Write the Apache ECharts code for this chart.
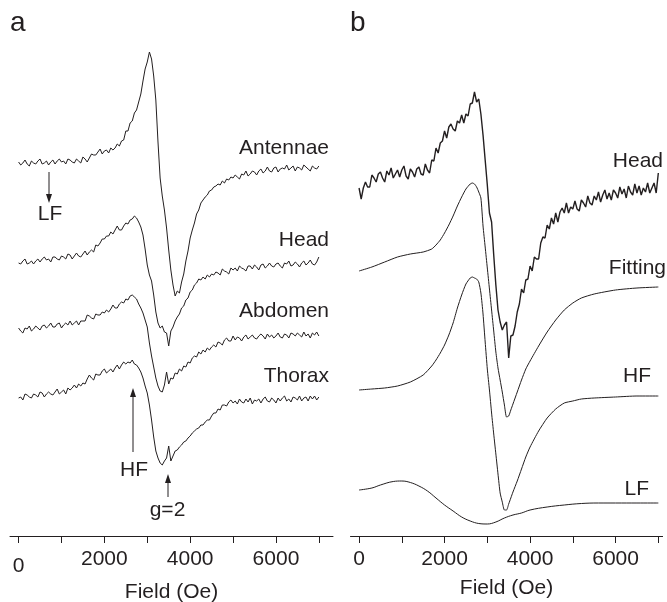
<!DOCTYPE html>
<html><head><meta charset="utf-8">
<script src="https://cdn.jsdelivr.net/npm/echarts@6/dist/echarts.min.js"></script>
<style>html,body{margin:0;padding:0;background:#fff}#c{width:667px;height:602px}</style>
</head><body><div id="c"></div>
<script>
// Field grid (Oe) shared by the measured (noisy) spectra
const fieldsRaw = [0,50,100,150,200,250,300,350,400,450,500,550,600,650,700,750,800,850,900,950,
1000,1050,1100,1150,1200,1250,1300,1350,1400,1450,1500,1550,1600,1650,1700,1750,1800,1850,1900,1950,
2000,2050,2100,2150,2200,2250,2300,2350,2400,2450,2500,2550,2600,2650,2700,2750,2800,2850,2900,2950,
3000,3050,3100,3150,3200,3250,3300,3350,3400,3450,3500,3550,3600,3650,3700,3750,3800,3850,3900,3950,
4000,4050,4100,4150,4200,4250,4300,4350,4400,4450,4500,4550,4600,4650,4700,4750,4800,4850,4900,4950,
5000,5050,5100,5150,5200,5250,5300,5350,5400,5450,5500,5550,5600,5650,5700,5750,5800,5850,5900,5950,
6000,6050,6100,6150,6200,6250,6300,6350,6400,6450,6500,6550,6600,6650,6700,6750,6800,6850,6900,6950,7000];

// Panel a: stacked EPR spectra (arbitrary units, offset for display)
const antennae = [374,371,373,376,372,370,375,373,372,375,377,372,373,375,371,374,376,372,375,377,
374,375,372,377,376,374,373,377,375,373,379,377,374,378,382,381,381,384,387,382,
385,386,383,388,386,388,392,390,395,396,405,405,413,415,423,426,434,442,455,467,
474,484,477,460,436,394,358,340,326,308,286,266,251,240,245,243,254,262,275,285,
298,306,313,322,326,333,336,339,341,345,346,349,350,352,351,355,353,357,356,359,
358,361,359,357,362,361,365,360,362,365,364,361,365,367,363,365,369,365,364,368,369,
364,367,368,367,371,366,368,370,365,369,368,366,371,369,367,365,370,368,367,370];
const headA = [273,272,275,277,272,273,275,272,275,277,274,277,279,276,277,274,279,279,277,276,
280,279,277,282,281,277,280,283,280,279,282,285,281,284,286,284,291,290,293,297,
297,300,300,304,302,306,310,306,306,310,313,312,316,317,320,318,314,309,301,287,
271,261,255,241,224,213,208,210,204,203,190,205,209,215,219,222,228,230,236,238,
244,246,251,253,257,256,259,257,261,259,262,261,264,263,261,267,265,264,262,268,
266,268,265,270,268,267,265,270,270,267,271,269,266,271,272,268,270,273,270,269,272,
273,270,268,273,272,275,270,271,274,272,269,273,275,271,273,276,272,271,274,279];
const abdomen = [208,205,203,208,207,210,205,207,210,208,206,210,211,208,210,213,209,209,212,213,
208,211,213,211,215,211,213,215,211,215,215,215,221,220,218,217,222,221,221,224,
223,226,224,227,231,228,228,232,234,233,237,236,240,241,239,237,232,228,223,216,
209,193,180,169,158,150,145,144,151,164,152,158,157,163,162,167,165,170,169,174,
173,178,180,179,184,182,186,184,188,186,189,191,189,194,193,191,196,198,195,195,
200,196,199,198,195,199,201,197,199,201,198,197,200,202,200,197,202,199,201,198,200,
203,199,198,202,201,198,203,202,200,203,201,199,204,200,202,198,203,201,204,200];
const thorax = [138,139,136,142,141,139,138,142,141,139,144,143,139,142,144,142,141,144,147,142,
144,146,142,148,146,148,151,148,152,150,153,152,157,161,158,156,162,161,161,165,
167,163,165,167,164,168,171,167,171,174,172,174,173,176,172,171,168,164,158,150,
143,131,116,99,85,78,73,71,75,78,90,75,80,85,86,89,91,94,95,98,
100,103,105,107,108,111,111,114,116,116,120,123,123,127,126,131,131,130,134,136,
133,135,132,137,134,133,137,134,138,132,136,135,137,133,137,139,135,134,138,136,133,
138,135,138,140,135,137,134,139,138,136,140,135,138,139,135,140,137,140,136,139];

// Panel b: measured head spectrum
const headB = [348,337,348,354,349,349,361,358,354,362,364,358,354,365,361,368,358,362,366,359,
366,370,360,357,367,364,359,367,369,362,361,372,366,363,376,375,388,383,393,395,
405,398,409,412,407,405,415,413,421,413,422,420,432,433,444,434,437,422,401,376,
351,323,314,281,251,226,214,206,211,214,178,200,201,210,224,232,247,243,256,257,
270,265,279,277,277,293,299,298,311,307,318,312,323,314,324,328,323,333,323,329,
327,335,327,325,336,333,329,340,333,331,340,336,344,334,341,346,337,343,336,346,343,
338,349,342,347,338,350,344,341,352,343,350,341,348,344,353,343,348,353,343,363];

// Panel b: simulated components
const fieldsSim = [0,300,600,900,1200,1500,1700,1800,1900,2000,2100,2200,2300,2400,2500,2600,2650,2700,2750,2800,
2850,2900,2950,3000,3050,3100,3150,3200,3250,3300,3350,3400,3450,3500,3550,3600,3700,3800,3900,4000,
4200,4400,4600,4800,5000,5200,5500,6000,6500,7000];
const fitting = [265,269,274,279,282,284,287,291,296,303,311,320,330,339,347,352,353,352,349,344,
338,310,289,268,247,226,205,184,168,156,144,131,119,120,126,132,144,156,167,175,
190,204,216,226,233,238,242,246,248,249];
const hf = [146,147,148,150,154,161,170,176,183,191,201,213,228,241,252,258,259,258,257,254,
243,222,194,167,146,123,102,82,62,43,34,26,26,32,38,44,55,67,79,89,
105,118,127,133,135,137,138,139,140,140];
const fieldsLF = [0,300,500,800,1000,1200,1400,1600,1800,2000,2200,2400,2600,2800,3000,3200,3400,3600,3800,4000,4400,4800,5200,5600,6000,6500,7000];
const lf = [46,48,51,54.5,55,53.5,50,45,38,31,25,19,15,12.5,12,14,18,21,23,26,29,31,32.5,33,33,33,33];

const tickValues = [0,1000,2000,3000,4000,5000,6000,7000];
const labelValues = [0,2000,4000,6000];

const INK = '#231f20';
const FONT = '"Liberation Sans", Arial, Helvetica, sans-serif';
const FS = 21;

function pairs(xs, ys){ return xs.map((x,i)=>[x, ys[i]]); }
function trace(name, idx, xs, ys, w, smooth){
  return {type:'line', name, xAxisIndex:idx, yAxisIndex:idx, data:pairs(xs,ys),
    showSymbol:false, symbol:'none', smooth: smooth||false, silent:true,
    lineStyle:{color:INK, width:w}};
}
function xAxisCfg(gridIndex, max, zeroLow){
  return {type:'value', gridIndex, min:-200, max,
    name:'Field (Oe)', nameLocation:'middle', nameGap:42,
    nameTextStyle:{fontSize:FS, color:INK, fontFamily:FONT},
    axisLine:{show:true, onZero:false, lineStyle:{color:INK, width:1}},
    axisTick:{show:true, length:7, lineStyle:{color:INK, width:1}, customValues:tickValues},
    axisLabel:{fontSize:FS, color:INK, fontFamily:FONT, margin:13, customValues:labelValues,
      formatter:(v)=> (zeroLow && v===0) ? '{z|0}' : String(v),
      rich:{z:{padding:[7,0,0,0], fontSize:FS, color:INK, fontFamily:FONT}}},
    splitLine:{show:false}};
}
function yAxisCfg(gridIndex){
  return {type:'value', gridIndex, min:0, max:496, show:false};
}
function txt(s, x, y, align, size){
  return {type:'text', x, y, silent:true, style:{text:s, fill:INK, font:(size||FS)+'px '+FONT,
    align:align, verticalAlign:'middle'}};
}
function arrow(x, y1, y2, tipY, up){
  const baseY = up ? tipY+9 : tipY-9;
  return [
    {type:'line', silent:true, shape:{x1:x, y1:y1, x2:x, y2:y2}, style:{stroke:INK, lineWidth:1}},
    {type:'polygon', silent:true, shape:{points:[[x-3,baseY],[x+3,baseY],[x,tipY]]}, style:{fill:INK}}
  ];
}

const chart = echarts.init(document.getElementById('c'), null, {renderer:'canvas'});
chart.setOption({
  animation:false,
  backgroundColor:'#fff',
  grid:[
    {left:10, width:323, top:40, height:496, containLabel:false, outerBoundsMode:'none'},
    {left:350.5, width:312.1, top:40, height:496, containLabel:false, outerBoundsMode:'none'}
  ],
  xAxis:[xAxisCfg(0, 7330, true), xAxisCfg(1, 7100, false)],
  yAxis:[yAxisCfg(0), yAxisCfg(1)],
  series:[
    trace('Antennae', 0, fieldsRaw, antennae, 1),
    trace('Head', 0, fieldsRaw, headA, 1),
    trace('Abdomen', 0, fieldsRaw, abdomen, 1),
    trace('Thorax', 0, fieldsRaw, thorax, 1),
    trace('Head b', 1, fieldsRaw, headB, 1.4),
    trace('Fitting', 1, fieldsSim, fitting, 1, 0.2),
    trace('HF', 1, fieldsSim, hf, 1, 0.2),
    trace('LF', 1, fieldsLF, lf, 1, 0.4)
  ],
  graphic:[
    txt('a', 10, 23, 'left', 28),
    txt('b', 350, 23, 'left', 28),
    txt('Antennae', 329, 148, 'right'),
    txt('Head', 329, 240, 'right'),
    txt('Abdomen', 329, 311, 'right'),
    txt('Thorax', 329, 376, 'right'),
    txt('LF', 50, 214.5, 'center'),
    txt('HF', 134, 470, 'center'),
    txt('g=2', 167.5, 510.5, 'center'),
    txt('Head', 663, 161, 'right'),
    txt('Fitting', 666, 268.5, 'right'),
    txt('HF', 651, 376, 'right'),
    txt('LF', 649, 489, 'right'),
    ...arrow(49, 172, 196, 203, false),
    ...arrow(133, 396, 452, 388, true),
    ...arrow(168, 481, 497, 474, true)
  ]
});
</script></body></html>
